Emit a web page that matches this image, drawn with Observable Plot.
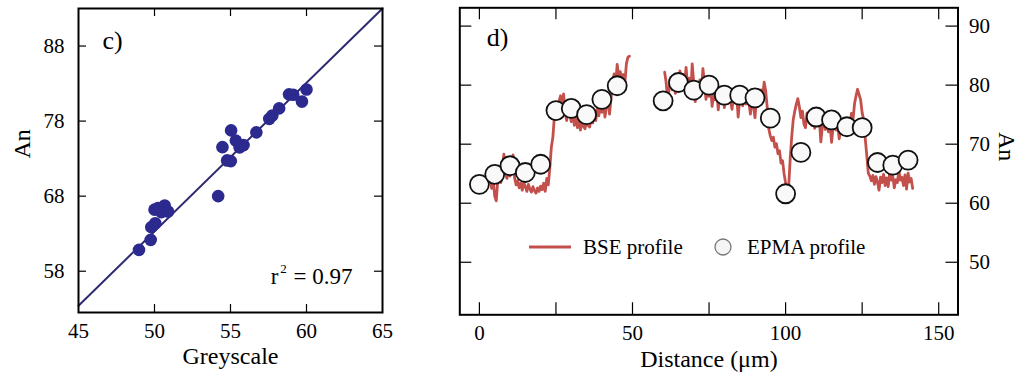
<!DOCTYPE html>
<html>
<head>
<meta charset="utf-8">
<script src="https://cdn.jsdelivr.net/npm/d3@7"></script>
<script src="https://cdn.jsdelivr.net/npm/@observablehq/plot@0.6"></script>
<style>
  body { margin: 0; background: #fff; }
  #fig { position: relative; width: 1020px; height: 377px; overflow: hidden; font-family: "Liberation Serif", "Times New Roman", serif; }
  #fig > svg { position: absolute; top: 0; }
  .lg { position: absolute; font-family: "Liberation Serif", serif; font-size: 21px; line-height: 1; white-space: nowrap; color: #000; }
</style>
</head>
<body>
<div id="fig"></div>
<script>
// ---- Panel c: greyscale vs anorthite content ----
const greyscale = [48.98, 49.75, 49.79, 50.05, 50.00, 50.23, 50.67, 50.89, 50.45,
                   54.19, 54.47, 54.78, 55.02, 55.04, 55.35, 55.60, 55.86, 56.70,
                   57.55, 57.75, 58.20, 58.85, 59.13, 59.70, 60.00];
const anGrey    = [60.84, 62.18, 63.87, 64.40, 66.20, 66.40, 66.76, 65.96, 65.87,
                   68.00, 74.53, 72.76, 72.67, 76.76, 75.40, 74.50, 74.80, 76.50,
                   78.30, 78.75, 79.70, 81.56, 81.50, 80.60, 82.20];
// regression line end points
const fitGrey = [45, 65];
const fitAn   = [53.4, 93.0];
const greyTicks = [45, 50, 55, 60, 65];
const greyInnerTicks = [50, 55, 60];
const anTicksC = [58, 68, 78, 88];
// coefficient of determination, written as r, superscript 2, value
const r2Parts = ["r", "2", "= 0.97"];

// ---- Panel d: BSE and EPMA profiles along distance ----
const epmaDist = [0, 5, 10, 15, 20, 25, 30, 35, 40, 45,
                  60, 65, 70, 75, 80, 85, 90, 95, 100, 105,
                  110, 115, 120, 125, 130, 135, 140];
const epmaAn   = [63.2, 64.9, 66.35, 65.2, 66.6, 75.7, 76.05, 75.0, 77.6, 79.9,
                  77.35, 80.45, 79.15, 80.0, 78.3, 78.3, 77.85, 74.4, 61.6, 68.6,
                  74.6, 74.1, 72.95, 72.8, 66.9, 66.45, 67.3];
// [distance µm, An] along the BSE greyscale trace (NaN marks the unmeasured gap)
const bseProfile = [
  [-0.5,64.0],[0,63.6],[0.5,64.2],[1,63.3],[1.5,64.4],[2,63.0],[2.5,64.6],[3,63.8],[3.5,64.8],[4,62.5],
  [4.5,64.1],[5,61.2],[5.5,60.4],[6,63.9],[6.5,64.8],[7,63.5],[7.5,66.2],[8,68.3],[8.5,65.0],[9,64.2],
  [9.5,65.8],[10,64.6],[10.5,66.9],[11,68.2],[11.5,64.3],[12,63.1],[12.5,63.8],[13,62.6],[13.5,63.4],[14,62.2],
  [14.5,63.5],[15,62.8],[15.5,62.0],[16,63.2],[16.5,62.4],[17,61.9],[17.5,62.8],[18,62.1],[18.5,61.7],[19,62.6],
  [19.5,62.0],[20,62.9],[20.5,62.3],[21,63.4],[21.5,62.0],[22,64.2],[22.5,63.1],[23,66.0],[23.5,69.5],[24,71.2],
  [24.5,74.8],[25,76.1],[25.5,75.2],[26,77.3],[26.5,78.2],[27,76.0],[27.5,78.5],[28,75.4],[28.5,74.0],[29,76.8],
  [29.5,75.1],[30,73.8],[30.5,75.9],[31,73.2],[31.5,74.6],[32,72.8],[32.5,73.9],[33,72.4],[33.5,74.3],[34,73.0],
  [34.5,72.6],[35,74.1],[35.5,73.2],[36,72.9],[36.5,74.4],[37,73.6],[37.5,75.2],[38,74.0],[38.5,76.1],[39,74.8],
  [39.5,76.9],[40,75.4],[40.5,77.5],[41,74.6],[41.5,76.3],[42,78.2],[42.5,75.1],[43,77.8],[43.5,80.6],[44,81.9],
  [44.5,80.2],[45,83.5],[45.5,81.4],[46,82.3],[46.5,80.9],[47,81.8],[47.5,80.3],[48,83.6],[48.5,84.7],[49,84.9],
  [55,NaN],
  [60.5,82.2],[61,80.4],[61.5,77.0],[62,79.6],[62.5,81.3],[63,79.2],[63.5,80.8],[64,78.6],[64.5,81.5],[65,80.2],
  [65.5,82.4],[66,79.5],[66.5,81.8],[67,80.3],[67.5,83.0],[68,79.7],[68.5,81.2],[69,78.3],[69.5,83.6],[70,80.4],
  [70.5,77.2],[71,79.5],[71.5,78.4],[72,80.9],[72.5,79.1],[73,82.8],[73.5,80.2],[74,77.6],[74.5,79.3],[75,78.1],
  [75.5,79.8],[76,76.4],[76.5,78.7],[77,77.5],[77.5,79.2],[78,75.8],[78.5,78.3],[79,77.1],[79.5,78.8],[80,76.2],
  [80.5,78.0],[81,76.9],[81.5,78.6],[82,77.3],[82.5,75.9],[83,78.1],[83.5,77.0],[84,78.4],[84.5,74.6],[85,77.6],
  [85.5,78.2],[86,76.5],[86.5,77.9],[87,76.8],[87.5,78.5],[88,77.2],[88.5,75.1],[89,77.8],[89.5,76.4],[90,74.5],
  [90.5,77.9],[91,78.6],[91.5,77.0],[92,79.2],[92.5,78.1],[93,80.5],[93.5,79.0],[94,76.2],[94.5,72.6],[95,71.4],
  [95.5,70.6],[96,71.2],[96.5,69.5],[97,70.1],[97.5,68.4],[98,68.9],[98.5,66.8],[99,67.2],[99.5,65.0],[100,63.4],
  [100.5,61.2],[101,62.8],[101.5,67.5],[102,71.3],[102.5,74.2],[103,75.6],[103.5,76.8],[104,77.7],[104.5,76.3],[105,74.5],
  [105.5,75.6],[106,73.4],[106.5,72.8],[107,75.3],[107.5,73.9],[108,74.8],[108.5,73.2],[109,74.6],[109.5,72.7],[110,74.0],
  [110.5,73.1],[111,74.4],[111.5,70.4],[112,72.9],[112.5,74.2],[113,72.5],[113.5,73.8],[114,72.1],[114.5,73.6],[115,70.3],
  [115.5,72.8],[116,74.1],[116.5,72.4],[117,73.5],[117.5,70.9],[118,72.7],[118.5,74.0],[119,72.2],[119.5,73.7],[120,72.6],
  [120.5,74.3],[121,73.0],[121.5,75.2],[122,74.1],[122.5,76.8],[123,78.2],[123.5,79.3],[124,78.4],[124.5,77.5],[125,75.3],
  [125.5,74.2],[126,71.0],[126.5,68.2],[127,65.1],[127.5,64.6],[128,63.8],[128.5,64.7],[129,63.2],[129.5,64.5],[130,63.6],
  [130.5,62.2],[131,64.4],[131.5,63.5],[132,64.9],[132.5,63.0],[133,64.3],[133.5,62.8],[134,65.2],[134.5,63.9],[135,64.6],
  [135.5,62.6],[136,64.0],[136.5,63.5],[137,65.5],[137.5,63.9],[138,64.4],[138.5,63.0],[139,64.8],[139.5,62.4],[140,65.1],
  [140.5,63.6],[141,64.2],[141.5,62.5]
];
const distLabelTicks = [0, 50, 100, 150];
const distTicks = [0, 25, 50, 75, 100, 125, 150];
const anTicksD = [50, 60, 70, 80, 90];
const legendItems = ["BSE profile", "EPMA profile"];

const navyDot = "#2c2a8e";
const navyLine = "#2d2a72";
const bseRed = "#c4504c";
const serif = '"Liberation Serif", "Times New Roman", serif';

const fig = document.getElementById("fig");

// ---------- panel c ----------
{
  const W = 400, H = 377;
  const mL = 78, mR = 18, mT = 8, mB = 65;
  const innerW = W - mL - mR, innerH = H - mT - mB;
  const tick = 8;
  const pts = greyscale.map((g, i) => ({g, a: anGrey[i]}));
  const fit = fitGrey.map((g, i) => ({g, a: fitAn[i]}));
  const svg = Plot.plot({
    width: W, height: H,
    marginLeft: mL, marginRight: mR, marginTop: mT, marginBottom: mB,
    x: {domain: [45, 65]},
    y: {domain: [52.5, 93]},
    style: {fontFamily: serif, fontSize: "21px", color: "#000", background: "transparent", overflow: "visible"},
    marks: [
      Plot.line(fit, {x: "g", y: "a", stroke: navyLine, strokeWidth: 2}),
      Plot.dot(pts, {x: "g", y: "a", r: 6.3, fill: navyDot}),
      // inward ticks on all four sides
      Plot.tickX(greyInnerTicks, {x: d => d, insetTop: innerH - tick, stroke: "#000", strokeWidth: 1.2}),
      Plot.tickX(greyInnerTicks, {x: d => d, insetBottom: innerH - tick, stroke: "#000", strokeWidth: 1.2}),
      Plot.tickY(anTicksC, {y: d => d, insetRight: innerW - tick, stroke: "#000", strokeWidth: 1.2}),
      Plot.tickY(anTicksC, {y: d => d, insetLeft: innerW - tick, stroke: "#000", strokeWidth: 1.2}),
      Plot.axisX(greyTicks, {tickSize: 0, tickPadding: 11, label: null}),
      Plot.axisY(anTicksC, {tickSize: 0, tickPadding: 14, label: null}),
      Plot.text(["Greyscale"], {frameAnchor: "bottom", lineAnchor: "bottom", dy: 51, fontSize: 24}),
      Plot.text(["An"], {frameAnchor: "left", rotate: -90, dx: -56, dy: -2, fontSize: 24}),
      Plot.text(["c)"], {frameAnchor: "top-left", textAnchor: "start", lineAnchor: "bottom", dx: 24, dy: 40, fontSize: 26}),
      // r² annotation, with a raised small "2"
      Plot.text([r2Parts[2]], {frameAnchor: "bottom-right", textAnchor: "end", lineAnchor: "bottom", dx: -30, dy: -29, fontSize: 23}),
      Plot.text([r2Parts[1]], {frameAnchor: "bottom-right", textAnchor: "middle", lineAnchor: "bottom", dx: -99, dy: -40, fontSize: 13}),
      Plot.text([r2Parts[0]], {frameAnchor: "bottom-right", textAnchor: "end", lineAnchor: "bottom", dx: -104, dy: -29, fontSize: 23}),
      Plot.frame({stroke: "#000", strokeWidth: 2})
    ]
  });
  svg.style.left = "0px";
  fig.appendChild(svg);
}

// ---------- panel d ----------
{
  const left = 400, W = 620, H = 377;
  const mL = 59.3, mR = 62.5, mT = 7.3, mB = 62.7;
  const innerW = W - mL - mR, innerH = H - mT - mB;
  const tick = 12;
  const epma = epmaDist.map((d, i) => ({d, a: epmaAn[i]}));
  const svg = Plot.plot({
    width: W, height: H,
    marginLeft: mL, marginRight: mR, marginTop: mT, marginBottom: mB,
    x: {domain: [-6.4, 156.3]},
    y: {domain: [41.1, 93.1]},
    style: {fontFamily: serif, fontSize: "21px", color: "#000", background: "transparent", overflow: "visible"},
    marks: [
      Plot.line(bseProfile, {x: d => d[0], y: d => d[1], stroke: bseRed, strokeWidth: 2.8, strokeLinejoin: "round"}),
      Plot.dot(epma, {x: "d", y: "a", r: 9.5, fill: "#f9f9f9", stroke: "#111", strokeWidth: 1.8}),
      Plot.tickX(distTicks, {x: d => d, insetTop: innerH - tick, stroke: "#000", strokeWidth: 1.2}),
      Plot.tickX(distTicks, {x: d => d, insetBottom: innerH - tick, stroke: "#000", strokeWidth: 1.2}),
      Plot.tickY(anTicksD, {y: d => d, insetRight: innerW - tick, stroke: "#000", strokeWidth: 1.2}),
      Plot.tickY(anTicksD, {y: d => d, insetLeft: innerW - tick, stroke: "#000", strokeWidth: 1.2}),
      Plot.axisX(distLabelTicks, {tickSize: 0, tickPadding: 10, label: null}),
      Plot.axisY(anTicksD, {anchor: "right", tickSize: 0, tickPadding: 11, label: null}),
      Plot.text(["Distance (μm)"], {frameAnchor: "bottom", lineAnchor: "bottom", dy: 52, fontSize: 24}),
      Plot.text(["An"], {frameAnchor: "right", rotate: 90, dx: 49, fontSize: 24}),
      Plot.text(["d)"], {frameAnchor: "top-left", textAnchor: "start", lineAnchor: "bottom", dx: 27, dy: 38, fontSize: 26}),
      Plot.frame({stroke: "#000", strokeWidth: 2})
    ]
  });
  svg.style.left = left + "px";
  fig.appendChild(svg);
}

// ---------- legend inside panel d ----------
{
  const sw = document.createElementNS("http://www.w3.org/2000/svg", "svg");
  sw.setAttribute("width", 220);
  sw.setAttribute("height", 24);
  sw.style.position = "absolute";
  sw.style.left = "525px";
  sw.style.top = "235px";
  sw.innerHTML =
    `<line x1="4" x2="46" y1="12" y2="12" stroke="${bseRed}" stroke-width="3.2"/>` +
    `<circle cx="198" cy="12" r="8" fill="#f5f5f5" stroke="#777" stroke-width="1.3"/>`;
  fig.appendChild(sw);
  const t1 = document.createElement("div");
  t1.className = "lg";
  t1.textContent = legendItems[0];
  t1.style.left = "583px";
  t1.style.top = "237px";
  fig.appendChild(t1);
  const t2 = document.createElement("div");
  t2.className = "lg";
  t2.textContent = legendItems[1];
  t2.style.left = "747px";
  t2.style.top = "237px";
  fig.appendChild(t2);
}
</script>
</body>
</html>
